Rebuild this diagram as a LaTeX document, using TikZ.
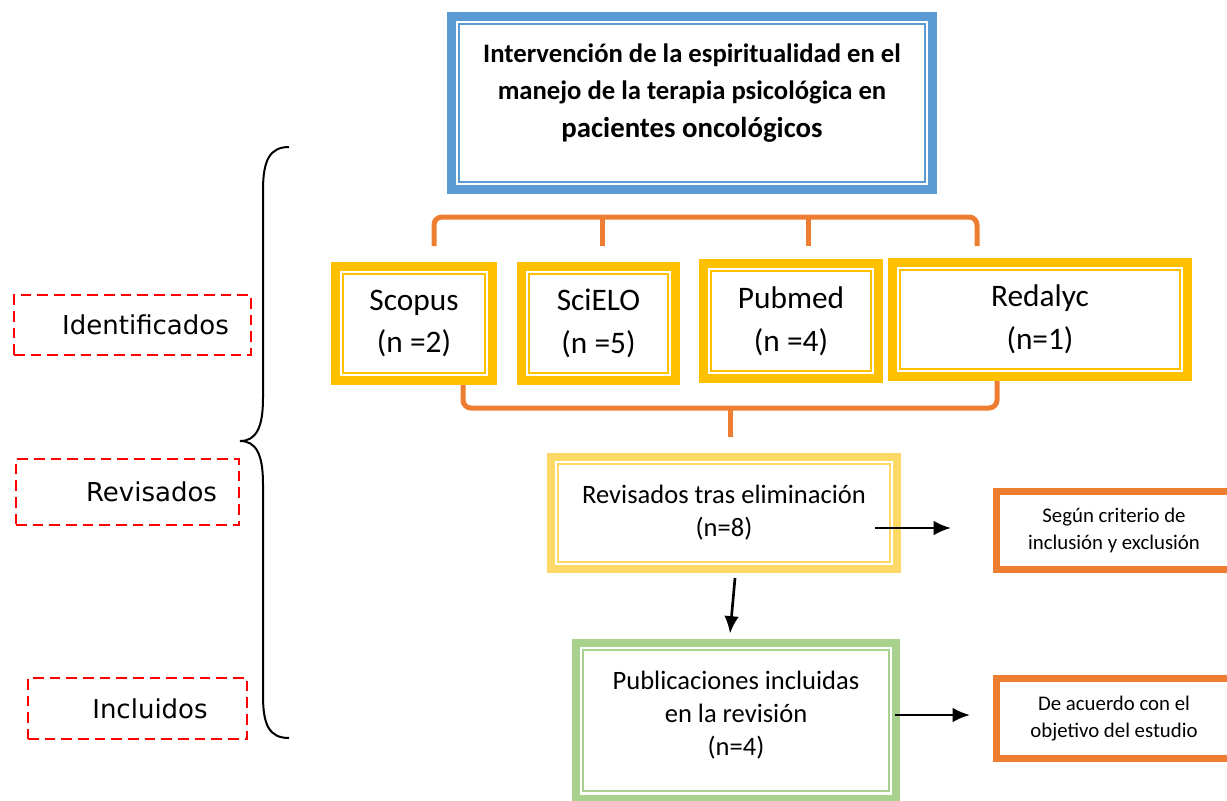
\documentclass[tikz,border=0pt]{standalone}
\usepackage{fontspec}
\setmainfont{Carlito}
\newfontfamily\etapafont{DejaVu Sans}
\usetikzlibrary{arrows.meta}

\definecolor{azultitulo}{HTML}{5B9BD5}
\definecolor{oro}{HTML}{FFC000}
\definecolor{oroclaro}{HTML}{FFD966}
\definecolor{verde}{HTML}{A9D18E}
\definecolor{naranja}{HTML}{ED7D31}

\tikzset{
  doble/.style={draw=#1, line width=6.75pt, fill=white, align=center, inner sep=2pt,
    path picture={\draw[#1, line width=1.5pt]
      ([shift={(5.6pt,-5.6pt)}]path picture bounding box.north west) rectangle
      ([shift={(-5.6pt,5.6pt)}]path picture bounding box.south east);}},
  base/.style={doble=oro, minimum height=85.5pt, font=\fontsize{23.5}{32}\selectfont},
  salida/.style={draw=naranja, line width=5.25pt, fill=white, align=center, inner sep=2pt,
    font=\fontsize{15.6}{20}\selectfont},
  etapa/.style={draw=red, dash pattern=on 8pt off 4.5pt, line width=1.9pt, inner sep=2pt,
    font=\etapafont\fontsize{19.5}{24}\selectfont},
  corchete/.style={naranja, line width=3.75pt, rounded corners=6pt},
  flecha/.style={-{Latex[length=13pt,width=11pt]}, line width=2pt}
}

\begin{document}
\begin{tikzpicture}[x=0.75pt, y=-0.75pt]
  \useasboundingbox (0,0) rectangle (1227,800);

  % --- Titulo ---
  \node[doble=azultitulo, minimum width=360.75pt, minimum height=129.75pt,
    font=\bfseries\fontsize{20}{28}\selectfont, text depth=18.75pt] (titulo) at (692,103)
    {Intervención de la espiritualidad en el\\manejo de la terapia psicológica en\\
     {\fontsize{21.6}{28}\selectfont pacientes oncológicos}};

  % --- Bases de datos ---
  \node[base, minimum width=117.75pt] (scopus) at (414,323.5) {Scopus\\(n =2)};
  \node[base, minimum width=115.5pt] (scielo) at (598.5,323.5) {SciELO\\(n =5)};
  \node[base, minimum width=131.25pt, minimum height=86.25pt] (pubmed) at (791,321) {Pubmed\\(n =4)};
  \node[base, minimum width=221.25pt] (redalyc) at (1040,319.5) {Redalyc\\(n=1)};

  % --- Revision ---
  \node[doble=oroclaro, line width=6pt, minimum width=259.5pt, minimum height=84pt,
    font=\fontsize{19.9}{24.75}\selectfont] (revisados) at (724,513)
    {Revisados tras eliminación\\(n=8)};
  \node[doble=verde, line width=6pt, minimum width=240pt, minimum height=117pt,
    font=\fontsize{19.9}{25}\selectfont, text depth=11pt] (incluidas) at (736,720.5)
    {Publicaciones incluidas\\en la revisión\\(n=4)};

  \node[salida, minimum width=176.25pt, minimum height=58.5pt] (criterio) at (1114,530.5)
    {Según criterio de\\inclusión y exclusión};
  \node[salida, minimum width=176.25pt, minimum height=60pt] (objetivo) at (1114,718.5)
    {De acuerdo con el\\objetivo del estudio};

  % --- Etapas ---
  \node[etapa, minimum width=177.75pt, minimum height=45pt] (ident) at (132.5,325)
    {\hspace*{19.5pt}Identificados};
  \node[etapa, minimum width=167.25pt, minimum height=49.5pt] (revis) at (127.5,492)
    {\hspace*{36pt}Revisados};
  \node[etapa, minimum width=164.25pt, minimum height=45.75pt] (incl) at (137.5,708.5)
    {\hspace*{18.75pt}Incluidos};

  % --- Corchetes ---
  \draw[corchete] ([shift={(20,-16)}]scopus.north) |- ([yshift=-17.25pt]titulo.south)
    -| ([shift={(-63,-12)}]redalyc.north);
  \draw[corchete] ([shift={(3.5,-16)}]scielo.north) -- ++(0,-29);
  \draw[corchete] ([shift={(17,-13)}]pubmed.north) -- ++(0,-29);
  \draw[corchete] ([shift={(49,0)}]scopus.south) |- ([shift={(6,-45)}]revisados.north)
    -| ([shift={(-43,0)}]redalyc.south);
  \draw[corchete] ([shift={(6,-45)}]revisados.north) -- ([shift={(6,-16)}]revisados.north);

  % --- Flechas ---
  \draw[flecha] ([shift={(-26,15)}]revisados.east) -- ([shift={(-42,-2.5)}]criterio.west);
  \draw[flecha] ([shift={(11,5)}]revisados.south) -- ([shift={(-6,-5)}]incluidas.north);
  \draw[flecha] ([shift={(-5,-5.5)}]incluidas.east) -- ([shift={(-23,-3.5)}]objetivo.west);

  % --- Llave ---
  \draw[line width=1.5pt] (289,147) .. controls (270,147) and (263,160) .. (263,190)
    -- (263,398) .. controls (263,428) and (256,441) .. (240,441)
    .. controls (256,441) and (263,454) .. (263,484) -- (263,696)
    .. controls (263,726) and (270,738) .. (289,738);
\end{tikzpicture}
\end{document}
